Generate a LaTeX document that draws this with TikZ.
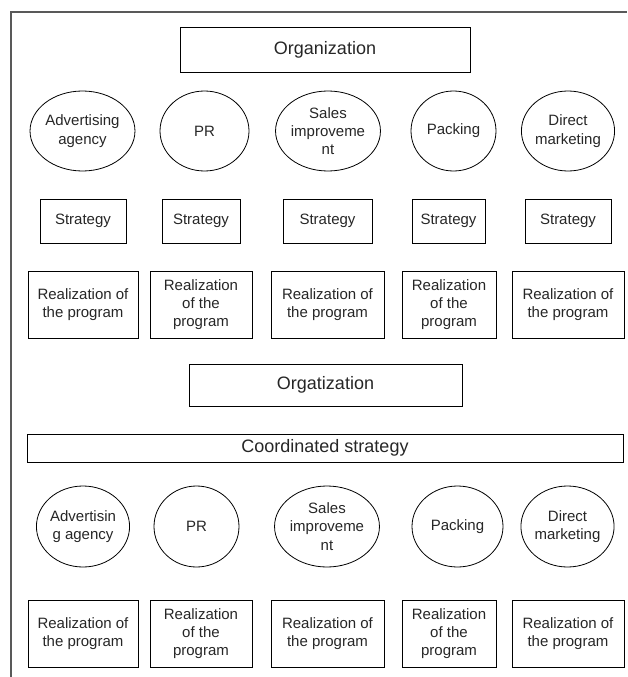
\documentclass[tikz,border=0pt]{standalone}
\usepackage{fontspec}
\setmainfont{Liberation Sans}
\usetikzlibrary{shapes.geometric}
\newcommand\smallfnt{\fontsize{15}{18.3}\selectfont}
\newcommand\bigfnt{\fontsize{18}{21}\selectfont}
\tikzset{
  boxnode/.style={draw=black, line width=0.9pt, rectangle, inner sep=0pt, align=center, font=\smallfnt, text=black!85},
  bigbox/.style={boxnode, font=\bigfnt},
  ovalnode/.style={draw=black, line width=0.8pt, ellipse, inner sep=0pt, align=center, font=\smallfnt, text=black!85},
  framel/.style={draw=black!65, line width=1.3pt}
}
\newcommand\Bx[7]{\node[#1, minimum width=#4pt, minimum height=#5pt] (#2) at #3 {#6#7};}
\begin{document}
\begin{tikzpicture}[x=1pt,y=-1pt]
\useasboundingbox (0,0) rectangle (627,677);
% frame
\coordinate (fbl) at (11,677);
\coordinate (ftl) at (11,12);
\coordinate (ftr) at (627,12);
\draw[framel] (fbl) -- (ftl) -- (ftr);

% top section
\Bx{bigbox}{org1}{(325,49.5)}{290}{45}{Organization}{}
\Bx{ovalnode}{a1}{(82.5,131)}{91}{80}{Advertising\\agency}{}
\Bx{ovalnode}{a2}{(204.5,131)}{89}{80}{PR}{}
\Bx{ovalnode}{a3}{(328,131)}{92}{80}{Sales\\improveme\\nt}{}
\Bx{ovalnode}{a4}{(453.5,131)}{85}{80}{Packing}{}
\Bx{ovalnode}{a5}{(568,131)}{90}{80}{Direct\\marketing}{}

\Bx{boxnode}{s1}{(83,221)}{86}{44}{Strategy}{}
\Bx{boxnode}{s2}{(201,221)}{78}{44}{Strategy}{}
\Bx{boxnode}{s3}{(327.5,221)}{89}{44}{Strategy}{}
\Bx{boxnode}{s4}{(448.5,221)}{73}{44}{Strategy}{}
\Bx{boxnode}{s5}{(568,221)}{86}{44}{Strategy}{}

\Bx{boxnode}{r1}{(83,304.5)}{110}{67}{Realization of\\the program}{}
\Bx{boxnode}{r2}{(201,304.5)}{102}{67}{Realization\\of the\\program}{}
\Bx{boxnode}{r3}{(327.5,304.5)}{113}{67}{Realization of\\the program}{}
\Bx{boxnode}{r4}{(449,304.5)}{94}{67}{Realization\\of the\\program}{}
\Bx{boxnode}{r5}{(568,304.5)}{112}{67}{Realization of\\the program}{}

% bottom section
\Bx{bigbox}{org2}{(325.5,385)}{273}{42}{Orgatization}{}
\Bx{bigbox}{coord}{(325,448)}{596}{28}{Coordinated strategy}{}

\Bx{ovalnode}{b1}{(83,526.5)}{86}{81}{Advertisin\\g agency}{}
\Bx{ovalnode}{b2}{(196.5,526.5)}{85}{81}{PR}{}
\Bx{ovalnode}{b3}{(327,526.5)}{88}{81}{Sales\\improveme\\nt}{}
\Bx{ovalnode}{b4}{(457.5,526.5)}{91}{81}{Packing}{}
\Bx{ovalnode}{b5}{(567.5,526.5)}{85}{81}{Direct\\marketing}{}

\Bx{boxnode}{q1}{(83,633.5)}{110}{67}{Realization of\\the program}{}
\Bx{boxnode}{q2}{(201,633.5)}{102}{67}{Realization\\of the\\program}{}
\Bx{boxnode}{q3}{(327.5,633.5)}{113}{67}{Realization of\\the program}{}
\Bx{boxnode}{q4}{(449,633.5)}{94}{67}{Realization\\of the\\program}{}
\Bx{boxnode}{q5}{(568,633.5)}{112}{67}{Realization of\\the program}{}
\end{tikzpicture}
\end{document}
